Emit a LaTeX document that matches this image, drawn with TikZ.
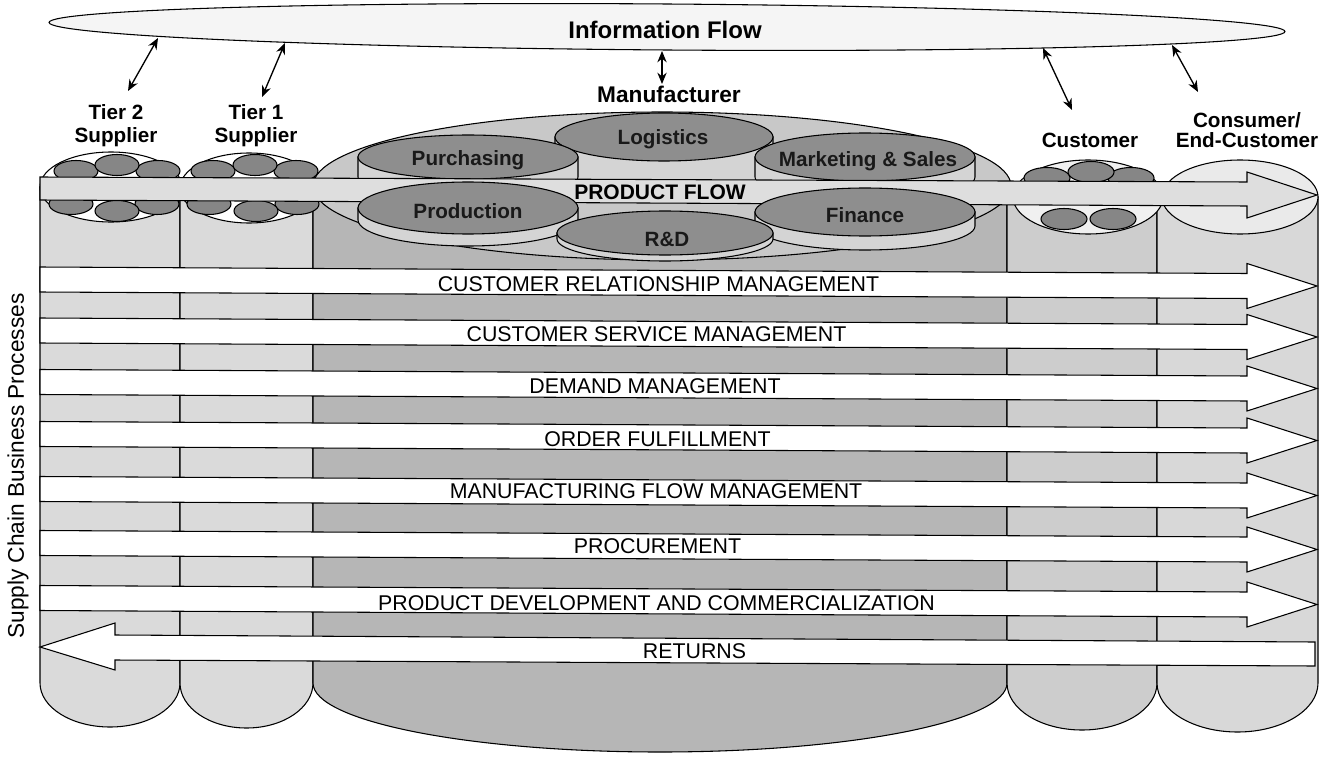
\documentclass[tikz,border=0pt]{standalone}
\usepackage{fontspec}
\setmainfont{Liberation Sans}
\usetikzlibrary{arrows.meta}
\definecolor{supcol}{HTML}{DADADA}
\definecolor{mancol}{HTML}{B6B6B6}
\definecolor{mantop}{HTML}{C8C8C8}
\definecolor{cuscol}{HTML}{CDCDCD}
\definecolor{concol}{HTML}{D8D8D8}
\definecolor{smallcol}{HTML}{868686}
\definecolor{cyltop}{HTML}{8E8E8E}
\definecolor{cylbody}{HTML}{D4D4D4}
\definecolor{pfcol}{HTML}{DEDEDE}
\definecolor{infocol}{HTML}{F5F5F5}
% column body: fill, xL, xR, ytop, rx, ry
\newcommand\mycol[6]{%
  \filldraw[fill=#1] (#2,#4) -- (#2,683) arc[start angle=180,end angle=0,x radius=#5,y radius=#6] -- (#3,#4) -- cycle;}
% small cylinder: cx, cy, rx, ry, h
\newcommand\mycyl[5]{%
  \filldraw[fill=cylbody] ({#1-#3},#2) -- ({#1-#3},{#2+#5}) arc[start angle=180,end angle=0,x radius=#3,y radius=#4] -- ({#1+#3},#2) -- cycle;
  \filldraw[fill=cyltop] (#1,#2) ellipse[x radius=#3,y radius=#4];}
\begin{document}
\begin{tikzpicture}[x=0.75pt,y=-0.75pt,line width=0.8pt,
  proc/.style={font=\fontsize{16}{19}\selectfont,inner sep=0pt},
  lbl/.style={font=\bfseries\fontsize{15.5}{16.9}\selectfont,inner sep=0pt,align=center},
  inlbl/.style={font=\bfseries\fontsize{15.5}{18}\selectfont,text=black!90,inner sep=0pt},
  dbl/.style={{Stealth[length=8.5pt,width=7pt]}-{Stealth[length=8.5pt,width=7pt]},line width=1pt},
  parrow/.style={draw=black,fill=white,line width=0.8pt}]
\useasboundingbox (0,0) rectangle (1330,763);
\fill[white] (0,0) rectangle (1330,763);

% column bodies
\mycol{supcol}{40}{180}{187}{70}{44}
\mycol{supcol}{180}{313}{188}{66.5}{45}
\mycol{mancol}{313}{1007}{186}{347}{69}
\mycol{cuscol}{1007}{1157}{197}{75}{47}
\mycol{concol}{1157}{1318}{197}{80.5}{49}

% top ellipses of the columns
\filldraw[fill=white] (111,187) ellipse[x radius=71,y radius=35];
\filldraw[fill=white] (249,188) ellipse[x radius=69,y radius=35];
\filldraw[fill=mantop] (662,186) ellipse[x radius=349,y radius=74];
\filldraw[fill=white!94!black] (1088,197) ellipse[x radius=75,y radius=37];
\filldraw[fill=concol!55!white] (1240,197) ellipse[x radius=78,y radius=37];

% small ellipses: suppliers
\foreach \x/\y in {76/171,158/171,117/165,71/204,157/204,117/211,
                   213/171,296/171,255/165,209/204,297/204,256/211}
  \filldraw[fill=smallcol] (\x,\y) ellipse[x radius=22,y radius=10.5];
% small ellipses: customer
\foreach \x/\y in {1047/178,1131/178,1091/172,1064/219,1113/219}
  \filldraw[fill=smallcol] (\x,\y) ellipse[x radius=23,y radius=10.5];

% manufacturer: back row cylinders
\mycyl{664}{137}{109}{24}{40}
\mycyl{468}{157}{110}{22}{20}
\mycyl{865}{157}{110}{24}{20}

% product flow arrow
\filldraw[fill=pfcol] (40,177) -- (1247,182) -- (1247,172) -- (1317,195)
  -- (1247,218) -- (1247,206) -- (40,200) -- cycle;

% manufacturer: front row cylinders
\mycyl{468}{208}{110}{26}{12}
\mycyl{865}{212}{110}{24}{14}
\mycyl{665}{233}{108}{22}{6}

\node[inlbl] (logi) at (663,139.5) {Logistics};
\node[inlbl] (purch) at (468,160) {Purchasing};
\node[inlbl] (mark) at (868,161.5) {Marketing \& Sales};
\node[inlbl] (prod) at (468,211.5) {Production};
\node[inlbl] (rnd) at (667,239.5) {R\&D};
\node[inlbl] (fin) at (865,215.5) {Finance};
\node[font=\bfseries\fontsize{15.75}{18}\selectfont,inner sep=0pt] (pflow) at (660,192.5) {PRODUCT FLOW};

% process arrows
\foreach \c in {279.5,330.5,382,434,489,543,598}
  \filldraw[parrow] (40,{\c-12.5}) -- (1247,{\c-6}) -- (1247,{\c-16}) -- (1317,{\c+6.5})
    -- (1247,{\c+29}) -- (1247,{\c+19}) -- (40,{\c+12.5}) -- cycle;
\filldraw[parrow] (40,647) -- (115,623) -- (115,635) -- (1315,642) -- (1315,666)
  -- (115,660) -- (115,670) -- cycle;

\node[proc] (crm) at (658.5,284) {CUSTOMER RELATIONSHIP MANAGEMENT};
\node[proc] (csm) at (656.5,334.5) {CUSTOMER SERVICE MANAGEMENT};
\node[proc] (dm) at (655,386.5) {DEMAND MANAGEMENT};
\node[proc] (of) at (657.5,439.5) {ORDER FULFILLMENT};
\node[proc] (mfm) at (656,491.5) {MANUFACTURING FLOW MANAGEMENT};
\node[proc] (pc) at (657.5,546.5) {PROCUREMENT};
\node[proc] (pdc) at (656.5,603.5) {PRODUCT DEVELOPMENT AND COMMERCIALIZATION};
\node[proc] (ret) at (694.5,651.5) {RETURNS};

\node[rotate=90,font=\fontsize{17}{20}\selectfont,inner sep=0pt] (scbp) at (18,466) {Supply Chain Business Processes};

% information flow
\filldraw[fill=infocol,rotate around={-0.42:(667,27)}] (667,27) ellipse[x radius=618,y radius=23];
\node[font=\bfseries\fontsize{18}{20}\selectfont,inner sep=0pt] (info) at (665,30) {Information Flow};

% entity labels
\node[lbl] (t2lbl) at (116,125.5) {Tier 2\\Supplier};
\node[lbl] (t1lbl) at (256,125.5) {Tier 1\\Supplier};
\node[font=\bfseries\fontsize{17}{20}\selectfont,inner sep=0pt] (mflbl) at (669,94) {Manufacturer};
\node[lbl] (culbl) at (1090,140.5) {Customer};
\node[lbl,font=\bfseries\fontsize{15.5}{15}\selectfont] (colbl) at (1247,130.5) {Consumer/\\End-Customer};

% double arrows
\coordinate (i1) at (158,38);   \coordinate (a1) at (128,91);
\coordinate (i2) at (285,43);   \coordinate (a2) at (262,97);
\coordinate (i3) at (662,51);   \coordinate (a3) at (662,84);
\coordinate (i4) at (1043,48);  \coordinate (a4) at (1072,110);
\coordinate (i5) at (1172,45);  \coordinate (a5) at (1198,92);
\draw[dbl] (i1) -- (a1);
\draw[dbl] (i2) -- (a2);
\draw[dbl] (i3) -- (a3);
\draw[dbl] (i4) -- (a4);
\draw[dbl] (i5) -- (a5);
\end{tikzpicture}
\end{document}
